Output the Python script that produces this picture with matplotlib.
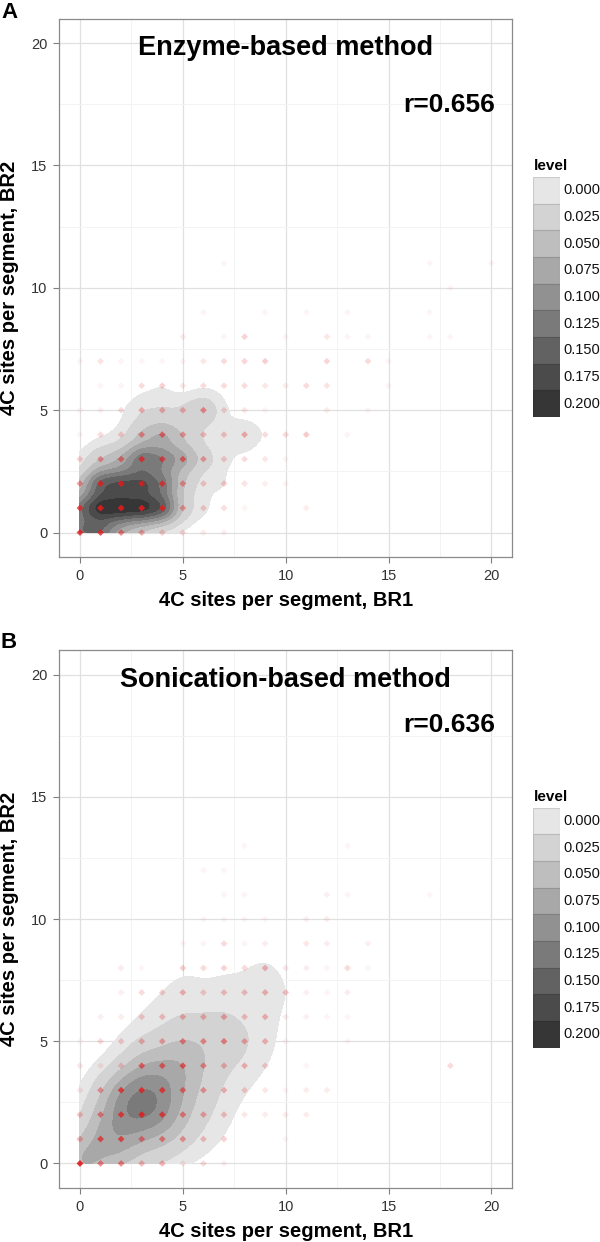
import numpy as np
import matplotlib
matplotlib.use("Agg")
import matplotlib.pyplot as plt
from matplotlib.patches import Rectangle
from matplotlib.ticker import MultipleLocator

plt.rcParams['font.family'] = ['Liberation Sans', 'DejaVu Sans']

# ---------------- data ----------------
# number of segments at each integer position: rows = BR2 (0, 1, ...), columns = BR1 (0..20)
counts_A = [
    [300, 280, 120, 60, 19, 11, 3, 2, 0, 0, 0, 0, 0, 0, 0, 0, 0, 0, 0, 0, 0],
    [260, 400, 400, 400, 340, 62, 19, 10, 1, 0, 0, 3, 0, 0, 0, 0, 0, 0, 0, 0, 0],
    [80, 310, 320, 320, 250, 75, 22, 20, 7, 2, 1, 0, 0, 0, 0, 0, 0, 0, 0, 0, 0],
    [19, 80, 120, 280, 220, 160, 65, 20, 11, 5, 1, 0, 0, 0, 0, 0, 0, 0, 0, 0, 0],
    [1, 11, 19, 90, 150, 76, 30, 25, 50, 11, 11, 25, 0, 1, 0, 0, 0, 0, 0, 0, 0],
    [1, 2, 11, 43, 43, 43, 100, 15, 5, 1, 0, 0, 3, 0, 1, 0, 0, 0, 0, 0, 0],
    [0, 1, 1, 11, 19, 5, 11, 11, 11, 5, 3, 11, 7, 0, 0, 1, 0, 0, 0, 0, 0],
    [1, 7, 1, 1, 1, 1, 5, 11, 15, 20, 0, 0, 15, 0, 11, 1, 0, 0, 0, 0, 0],
    [0, 0, 0, 0, 0, 3, 0, 1, 17, 0, 1, 0, 5, 1, 1, 0, 0, 1, 1, 0, 0],
    [0, 0, 0, 0, 0, 0, 1, 0, 0, 1, 0, 1, 0, 1, 0, 0, 0, 1, 0, 0, 0],
    [0, 0, 0, 0, 0, 0, 0, 0, 0, 0, 0, 0, 0, 0, 0, 0, 0, 0, 1, 0, 0],
    [0, 0, 0, 0, 0, 0, 0, 1, 0, 0, 0, 0, 0, 0, 0, 0, 0, 1, 0, 0, 1],
]
counts_B = [
    [383, 118, 118, 43, 43, 5, 11, 2, 0, 0, 0, 0, 0, 0, 0, 0, 0, 0, 0, 0, 0],
    [43, 232, 232, 118, 118, 76, 30, 19, 0, 0, 1, 0, 0, 0, 0, 0, 0, 0, 0, 0, 0],
    [30, 118, 266, 341, 266, 118, 58, 30, 5, 3, 3, 3, 0, 0, 0, 0, 0, 0, 0, 0, 0],
    [5, 76, 266, 302, 266, 143, 76, 43, 19, 5, 1, 3, 3, 0, 0, 0, 0, 0, 0, 0, 0],
    [5, 5, 19, 170, 170, 200, 96, 43, 43, 19, 0, 1, 0, 0, 0, 0, 0, 0, 11, 0, 0],
    [1, 11, 19, 43, 58, 118, 96, 118, 58, 43, 1, 0, 0, 1, 0, 0, 0, 0, 0, 0, 0],
    [0, 2, 3, 19, 30, 43, 43, 58, 30, 43, 3, 2, 1, 1, 0, 0, 0, 0, 0, 0, 0],
    [0, 0, 2, 11, 19, 43, 19, 30, 30, 43, 30, 2, 1, 3, 0, 0, 0, 0, 0, 0, 0],
    [0, 0, 3, 1, 0, 19, 11, 19, 11, 43, 5, 3, 1, 11, 1, 0, 0, 0, 0, 0, 0],
    [0, 0, 0, 0, 0, 1, 1, 11, 1, 3, 0, 5, 3, 0, 2, 0, 0, 0, 0, 0, 0],
    [0, 0, 0, 0, 0, 0, 1, 1, 1, 1, 0, 2, 3, 0, 0, 0, 0, 0, 0, 0, 0],
    [0, 0, 0, 0, 0, 0, 0, 1, 1, 0, 0, 0, 2, 1, 0, 0, 0, 1, 0, 0, 0],
    [0, 0, 0, 0, 0, 0, 1, 1, 0, 0, 0, 0, 0, 0, 0, 0, 0, 0, 0, 0, 0],
    [0, 0, 0, 0, 0, 0, 0, 0, 1, 0, 0, 0, 0, 1, 0, 0, 0, 0, 0, 0, 0],
]
titles = ["Enzyme-based method", "Sonication-based method"]
r_labels = ["r=0.656", "r=0.636"]
panel_letters = ["A", "B"]
x_label = "4C sites per segment, BR1"
y_label = "4C sites per segment, BR2"
tick_values = [0, 5, 10, 15, 20]

# density-contour settings
bandwidths = [(0.55, 0.45), (0.75, 0.75)]
peak_levels = [0.218, 0.135]
outer_levels = [0.0105, 0.0102]
level_breaks = [0.000, 0.025, 0.050, 0.075, 0.100, 0.125, 0.150, 0.175, 0.200]
level_labels = ["0.000", "0.025", "0.050", "0.075", "0.100", "0.125", "0.150", "0.175", "0.200"]
level_colors = ["#e6e6e6", "#d3d3d3", "#bebebe", "#a8a8a8", "#919191",
                "#7a7a7a", "#626262", "#4b4b4b", "#363636"]
full_alpha_count = 400
point_color = (0.89, 0.10, 0.11)


def kde2d(counts, bw, n=100):
    c = np.asarray(counts, dtype=float)
    ys, xs = np.nonzero(c)
    w = c[ys, xs]
    gx = np.linspace(xs.min(), xs.max(), n)
    gy = np.linspace(ys.min(), ys.max(), n)
    ax = np.exp(-0.5 * ((gx[:, None] - xs[None, :]) / bw[0]) ** 2)
    ay = np.exp(-0.5 * ((gy[:, None] - ys[None, :]) / bw[1]) ** 2)
    z = (ay * w) @ ax.T
    z /= w.sum() * 2 * np.pi * bw[0] * bw[1]
    return gx, gy, z


W, H = 600, 1242
fig = plt.figure(figsize=(W / 100, H / 100), dpi=100)

axes_px = [(59.4, 18.6, 512, 557), (59.4, 650.4, 512, 1187.9)]
legend_px = [(533, 177, 560, 417), (533, 807.7, 560, 1047.8)]
letter_px = [(1, 2), (1, 632)]
r_y = [17.2, 17.65]

for i in range(2):
    l, t, r, b = axes_px[i]
    ax = fig.add_axes([l / W, 1 - b / H, (r - l) / W, (b - t) / H])
    ax.set_xlim(-1, 21)
    ax.set_ylim(-1, 21)
    ax.set_facecolor("white")
    ax.xaxis.set_minor_locator(MultipleLocator(2.5))
    ax.yaxis.set_minor_locator(MultipleLocator(2.5))
    ax.set_xticks(tick_values)
    ax.set_yticks(tick_values)
    ax.grid(which="major", color="#e0e0e0", lw=0.9, zorder=0)
    ax.grid(which="minor", color="#f3f3f3", lw=0.7, zorder=0)
    ax.set_axisbelow(True)
    ax.tick_params(which="major", length=4, width=0.8, color="#7f7f7f",
                   labelsize=10.5, labelcolor="#333333", pad=4.5)
    ax.tick_params(which="minor", length=0)
    for sp in ax.spines.values():
        sp.set_color("#8a8a8a")
        sp.set_linewidth(0.9)

    counts = counts_A if i == 0 else counts_B
    gx, gy, z = kde2d(counts, bandwidths[i])
    z = z * peak_levels[i] / z.max()
    levels = [outer_levels[i]] + level_breaks[1:] + [10.0]
    ax.contourf(gx, gy, z, levels=levels, colors=level_colors, zorder=1)

    c = np.asarray(counts, dtype=float)
    ys, xs = np.nonzero(c)
    n = c[ys, xs]
    alphas = np.clip(0.92 * np.sqrt(n / full_alpha_count), 0.03, 0.95)
    rgba = np.zeros((len(n), 4))
    rgba[:, :3] = point_color
    rgba[:, 3] = alphas
    ax.scatter(xs, ys, s=12, marker="D", c=rgba, linewidths=0, zorder=3)

    ax.text(10, 19.5, titles[i], ha="center", va="baseline", fontsize=19.5,
            fontweight="bold", zorder=4)
    ax.text(20.2, r_y[i], r_labels[i], ha="right", va="baseline",
            fontsize=19, fontweight="bold", zorder=4)

    fig.text(((l + r) / 2) / W, 1 - (b + 43.5) / H, x_label, ha="center", va="center",
             fontsize=14.5, fontweight="bold")
    fig.text(9.6 / W, 1 - ((t + b) / 2) / H, y_label, ha="center", va="center",
             rotation=90, fontsize=14.5, fontweight="bold")
    fig.text(letter_px[i][0] / W, 1 - letter_px[i][1] / H, panel_letters[i],
             ha="left", va="top", fontsize=16, fontweight="bold")

    # legend
    ll, lt, lr, lb = legend_px[i]
    lax = fig.add_axes([ll / W, 1 - lb / H, (lr - ll) / W, (lb - lt) / H])
    lax.set_xlim(0, 1)
    lax.set_ylim(len(level_breaks), 0)
    lax.axis("off")
    for k, col in enumerate(level_colors):
        rgb = np.array(matplotlib.colors.to_rgb(col))
        lax.add_patch(Rectangle((0, k), 1, 1, facecolor=col,
                                edgecolor=tuple(rgb * 0.88), lw=0.8))
        lax.text(1.12, k + 0.5, level_labels[k], ha="left", va="center",
                 fontsize=10.5, color="#111111")
    fig.text(534 / W, 1 - (lt - 11) / H, "level", ha="left", va="center",
             fontsize=11, fontweight="bold")

fig.savefig("out.png", dpi=100)
